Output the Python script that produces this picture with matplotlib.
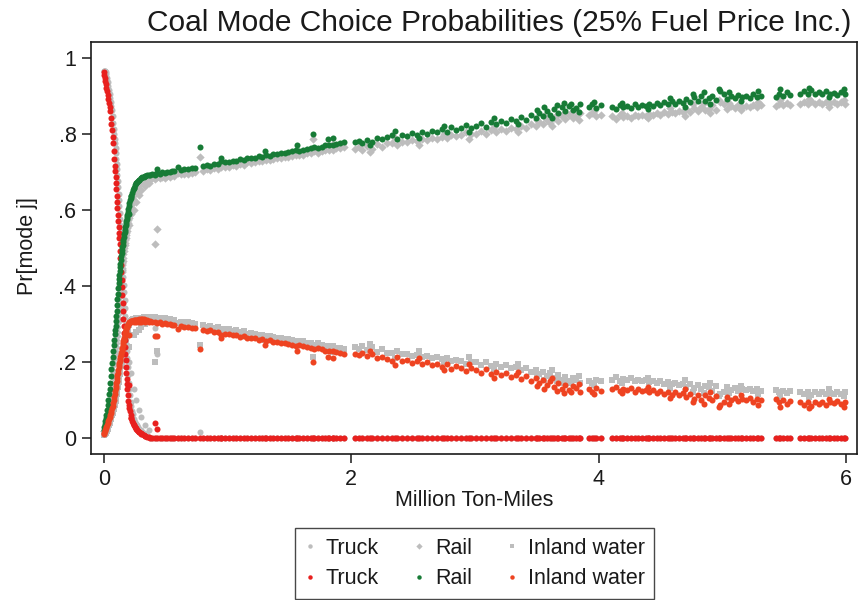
import matplotlib
matplotlib.use("Agg")
import matplotlib.pyplot as plt
from matplotlib import font_manager
from matplotlib.lines import Line2D

# ---------------- data ----------------
# Steep region near zero ton-miles
miles_steep = [0.000, 0.004, 0.008, 0.012, 0.016, 0.020, 0.025, 0.030, 0.035, 0.040,
               0.045, 0.050, 0.055, 0.060, 0.065, 0.070, 0.075, 0.080, 0.084, 0.088,
               0.091, 0.094, 0.097, 0.100, 0.103, 0.106, 0.109, 0.112, 0.115, 0.118,
               0.121, 0.124, 0.127, 0.130, 0.133, 0.136, 0.139, 0.142, 0.145, 0.148,
               0.151, 0.154, 0.157, 0.160, 0.163, 0.166, 0.169, 0.172, 0.175, 0.178,
               0.181, 0.184, 0.187, 0.190, 0.194, 0.198, 0.202, 0.206, 0.210, 0.215,
               0.220, 0.226, 0.232, 0.240, 0.248, 0.256, 0.265, 0.275, 0.285, 0.296,
               0.308, 0.320, 0.334, 0.348]
truck_fuel_steep = [0.964, 0.956, 0.948, 0.939, 0.931, 0.922, 0.912, 0.902, 0.892, 0.882,
                    0.871, 0.860, 0.843, 0.826, 0.810, 0.793, 0.776, 0.754, 0.735, 0.717,
                    0.703, 0.688, 0.671, 0.655, 0.638, 0.621, 0.604, 0.587, 0.570, 0.555,
                    0.540, 0.525, 0.510, 0.492, 0.474, 0.455, 0.436, 0.416, 0.397, 0.376,
                    0.355, 0.334, 0.313, 0.294, 0.276, 0.258, 0.240, 0.222, 0.205, 0.188,
                    0.171, 0.155, 0.142, 0.129, 0.113, 0.098, 0.088, 0.079, 0.070, 0.061,
                    0.053, 0.045, 0.040, 0.035, 0.030, 0.026, 0.022, 0.018, 0.015, 0.012,
                    0.010, 0.007, 0.005, 0.004]
rail_fuel_steep = [0.022, 0.030, 0.037, 0.045, 0.052, 0.060, 0.073, 0.087, 0.100, 0.115,
                   0.130, 0.145, 0.163, 0.181, 0.198, 0.214, 0.230, 0.246, 0.259, 0.273,
                   0.284, 0.296, 0.308, 0.320, 0.335, 0.350, 0.365, 0.380, 0.395, 0.407,
                   0.418, 0.429, 0.440, 0.450, 0.459, 0.468, 0.478, 0.487, 0.495, 0.502,
                   0.509, 0.515, 0.522, 0.529, 0.536, 0.541, 0.548, 0.554, 0.560, 0.566,
                   0.571, 0.577, 0.582, 0.588, 0.595, 0.602, 0.610, 0.618, 0.626, 0.632,
                   0.638, 0.645, 0.652, 0.659, 0.666, 0.670, 0.674, 0.677, 0.680, 0.683,
                   0.686, 0.688, 0.690, 0.692]
water_fuel_steep = [0.010, 0.014, 0.018, 0.022, 0.026, 0.030, 0.035, 0.040, 0.045, 0.051,
                    0.056, 0.061, 0.066, 0.072, 0.078, 0.085, 0.093, 0.100, 0.109, 0.117,
                    0.124, 0.131, 0.137, 0.144, 0.151, 0.158, 0.165, 0.172, 0.179, 0.186,
                    0.192, 0.197, 0.202, 0.207, 0.212, 0.218, 0.223, 0.228, 0.233, 0.238,
                    0.244, 0.249, 0.254, 0.260, 0.264, 0.269, 0.273, 0.278, 0.282, 0.286,
                    0.290, 0.293, 0.295, 0.296, 0.298, 0.300, 0.302, 0.304, 0.305, 0.306,
                    0.307, 0.308, 0.309, 0.310, 0.310, 0.311, 0.311, 0.311, 0.312, 0.312,
                    0.312, 0.312, 0.311, 0.311]
truck_base_steep = [0.966, 0.966, 0.965, 0.965, 0.964, 0.958, 0.946, 0.936, 0.926, 0.915,
                    0.904, 0.894, 0.884, 0.873, 0.862, 0.847, 0.829, 0.813, 0.800, 0.786,
                    0.776, 0.763, 0.750, 0.735, 0.722, 0.708, 0.693, 0.677, 0.660, 0.643,
                    0.627, 0.610, 0.593, 0.576, 0.560, 0.545, 0.530, 0.515, 0.498, 0.480,
                    0.461, 0.442, 0.423, 0.403, 0.383, 0.362, 0.341, 0.320, 0.300, 0.282,
                    0.264, 0.246, 0.228, 0.211, 0.188, 0.166, 0.146, 0.129, 0.113, 0.096,
                    0.084, 0.072, 0.063, 0.050, 0.043, 0.038, 0.033, 0.028, 0.024, 0.020,
                    0.016, 0.013, 0.010, 0.008]
rail_base_steep = [0.018, 0.019, 0.020, 0.021, 0.022, 0.030, 0.039, 0.049, 0.058, 0.070,
                   0.084, 0.097, 0.112, 0.127, 0.142, 0.160, 0.177, 0.195, 0.208, 0.220,
                   0.230, 0.240, 0.249, 0.259, 0.269, 0.280, 0.292, 0.304, 0.316, 0.330,
                   0.345, 0.360, 0.375, 0.390, 0.403, 0.414, 0.425, 0.436, 0.447, 0.456,
                   0.465, 0.475, 0.484, 0.492, 0.500, 0.507, 0.513, 0.520, 0.527, 0.533,
                   0.540, 0.545, 0.552, 0.558, 0.566, 0.573, 0.580, 0.588, 0.595, 0.604,
                   0.614, 0.621, 0.630, 0.640, 0.648, 0.655, 0.661, 0.666, 0.669, 0.672,
                   0.675, 0.677, 0.679, 0.681]
water_base_steep = [0.008, 0.009, 0.010, 0.011, 0.012, 0.014, 0.019, 0.024, 0.029, 0.034,
                    0.039, 0.044, 0.049, 0.055, 0.060, 0.065, 0.071, 0.077, 0.081, 0.087,
                    0.092, 0.098, 0.104, 0.109, 0.115, 0.121, 0.127, 0.134, 0.141, 0.148,
                    0.155, 0.162, 0.169, 0.176, 0.183, 0.190, 0.196, 0.201, 0.206, 0.211,
                    0.216, 0.222, 0.227, 0.232, 0.237, 0.242, 0.247, 0.253, 0.258, 0.263,
                    0.268, 0.273, 0.277, 0.282, 0.287, 0.292, 0.297, 0.301, 0.304, 0.306,
                    0.308, 0.310, 0.312, 0.313, 0.314, 0.315, 0.316, 0.316, 0.317, 0.317,
                    0.317, 0.318, 0.317, 0.317]

# Scattered / outlying observations
miles_extra = [0.41, 0.43, 0.78, 1.69, 1.56, 1.81, 0.22, 0.24, 0.26, 0.28, 0.30, 0.33, 0.36, 0.20,
               0.95, 1.30, 1.85, 2.15, 2.35, 2.55, 2.75, 2.95, 3.15, 3.35, 3.50, 3.56, 3.62, 3.66,
               3.72, 3.78, 3.84, 3.96, 4.02, 4.19, 4.40, 4.58, 4.70, 4.76, 4.85, 4.90, 4.97, 5.05,
               5.15, 5.29, 5.47, 5.70, 5.86, 5.98]
truck_fuel_extra = [0.040, 0.024, 0.000, 0.000, 0.000, 0.000, 0.053, 0.035, 0.024, 0.016, 0.011, 0.006, 0.003, 0.140,
                    0, 0, 0, 0, 0, 0, 0, 0, 0, 0, 0, 0, 0, 0,
                    0, 0, 0, 0, 0, 0, 0, 0, 0, 0, 0, 0, 0, 0,
                    0, 0, 0, 0, 0, 0]
rail_fuel_extra = [0.692, 0.708, 0.765, 0.800, 0.770, 0.786, 0.638, 0.659, 0.672, 0.678, 0.684, 0.689, 0.692, 0.590,
                   0.738, 0.755, 0.790, 0.770, 0.808, 0.790, 0.822, 0.805, 0.842, 0.825, 0.862, 0.870, 0.842, 0.876,
                   0.882, 0.880, 0.858, 0.885, 0.876, 0.882, 0.866, 0.895, 0.872, 0.905, 0.910, 0.880, 0.918, 0.910,
                   0.886, 0.912, 0.918, 0.922, 0.896, 0.918]
water_fuel_extra = [0.268, 0.268, 0.235, 0.200, 0.230, 0.214, 0.307, 0.306, 0.304, 0.306, 0.305, 0.305, 0.305, 0.270,
                    0.262, 0.245, 0.210, 0.230, 0.192, 0.210, 0.178, 0.195, 0.158, 0.175, 0.138, 0.130, 0.158, 0.124,
                    0.118, 0.120, 0.142, 0.115, 0.124, 0.118, 0.134, 0.105, 0.128, 0.095, 0.090, 0.120, 0.082, 0.090,
                    0.114, 0.088, 0.082, 0.078, 0.104, 0.082]
truck_base_extra = [0.290, 0.220, 0.016, 0.000, 0.000, 0.000, 0.170, 0.130, 0.100, 0.075, 0.055, 0.035, 0.020, 0.200,
                    0, 0, 0, 0, 0, 0, 0, 0, 0, 0, 0, 0, 0, 0,
                    0, 0, 0, 0, 0, 0, 0, 0, 0, 0, 0, 0, 0, 0,
                    0, 0, 0, 0, 0, 0]
rail_base_extra = [0.510, 0.550, 0.740, 0.787, 0.752, 0.770, 0.590, 0.600, 0.620, 0.640, 0.652, 0.664, 0.672, 0.560,
                   0.724, 0.741, 0.774, 0.752, 0.789, 0.772, 0.800, 0.786, 0.818, 0.806, 0.838, 0.846, 0.822, 0.850,
                   0.856, 0.855, 0.836, 0.860, 0.850, 0.855, 0.842, 0.868, 0.848, 0.878, 0.882, 0.856, 0.890, 0.882,
                   0.862, 0.885, 0.890, 0.893, 0.872, 0.889]
water_base_extra = [0.200, 0.230, 0.244, 0.213, 0.248, 0.230, 0.270, 0.270, 0.280, 0.285, 0.293, 0.300, 0.308, 0.240,
                    0.276, 0.259, 0.226, 0.248, 0.211, 0.228, 0.200, 0.214, 0.182, 0.194, 0.162, 0.154, 0.178, 0.150,
                    0.144, 0.145, 0.164, 0.140, 0.150, 0.145, 0.158, 0.132, 0.152, 0.122, 0.118, 0.144, 0.110, 0.118,
                    0.138, 0.115, 0.110, 0.107, 0.128, 0.111]

# Long-haul region
miles_tail = [0.37, 0.39, 0.41, 0.43, 0.45, 0.47, 0.49, 0.51, 0.53, 0.55, 0.57, 0.60, 0.62, 0.65, 0.68, 0.71, 0.74,
              0.80, 0.83, 0.86, 0.89, 0.92, 0.95, 0.98, 1.01, 1.04, 1.07, 1.10, 1.13, 1.16, 1.19, 1.22, 1.25, 1.28,
              1.31, 1.34, 1.37, 1.40, 1.43, 1.46, 1.49, 1.52, 1.55, 1.58, 1.61, 1.64, 1.67, 1.70, 1.73, 1.76, 1.79,
              1.82, 1.85, 1.88, 1.91, 1.94,
              2.03, 2.06, 2.09, 2.13, 2.17, 2.21, 2.25, 2.29, 2.33, 2.37, 2.41, 2.45, 2.49, 2.53, 2.57, 2.61, 2.65,
              2.69, 2.73, 2.77, 2.81, 2.85, 2.89, 2.93, 2.97,
              3.01, 3.05, 3.09, 3.13, 3.17, 3.21, 3.25, 3.29, 3.33, 3.37, 3.41, 3.45, 3.49, 3.52, 3.55, 3.58, 3.61,
              3.64, 3.67, 3.70, 3.73, 3.76, 3.79, 3.82, 3.85, 3.92, 3.95, 3.98,
              4.11, 4.14, 4.17, 4.20, 4.23, 4.26, 4.29, 4.32, 4.35, 4.38, 4.41, 4.44, 4.47, 4.50, 4.53, 4.56, 4.59,
              4.62, 4.65, 4.68, 4.71, 4.74, 4.77, 4.80, 4.83, 4.86, 4.89, 4.92, 4.95, 4.98, 5.01, 5.04, 5.07, 5.10,
              5.13, 5.16, 5.19, 5.22, 5.25, 5.28, 5.31, 5.43, 5.46, 5.49, 5.52, 5.55, 5.63, 5.66, 5.69, 5.72, 5.75,
              5.78, 5.81, 5.84, 5.87, 5.90, 5.93, 5.96, 5.99]
rail_fuel_tail = [0.693, 0.695, 0.694, 0.697, 0.696, 0.699, 0.698, 0.701, 0.700, 0.703, 0.702, 0.712, 0.705, 0.708, 0.707, 0.711, 0.710,
                  0.716, 0.718, 0.717, 0.722, 0.721, 0.728, 0.725, 0.727, 0.729, 0.728, 0.733, 0.732, 0.736, 0.737, 0.738, 0.741, 0.740,
                  0.744, 0.743, 0.748, 0.747, 0.750, 0.751, 0.753, 0.754, 0.757, 0.756, 0.759, 0.760, 0.762, 0.765, 0.763, 0.767, 0.770,
                  0.770, 0.772, 0.774, 0.776, 0.778,
                  0.779, 0.782, 0.776, 0.785, 0.780, 0.790, 0.786, 0.792, 0.796, 0.788, 0.798, 0.794, 0.802, 0.797, 0.806, 0.800, 0.809,
                  0.804, 0.812, 0.806, 0.818, 0.810, 0.815, 0.824, 0.816,
                  0.822, 0.828, 0.819, 0.832, 0.826, 0.835, 0.830, 0.840, 0.834, 0.845, 0.838, 0.850, 0.843, 0.855, 0.847, 0.860, 0.850,
                  0.866, 0.855, 0.870, 0.860, 0.874, 0.862, 0.868, 0.878, 0.872, 0.880, 0.868,
                  0.872, 0.866, 0.876, 0.870, 0.874, 0.868, 0.878, 0.871, 0.877, 0.873, 0.880, 0.874, 0.882, 0.876, 0.884, 0.878, 0.886,
                  0.880, 0.888, 0.882, 0.893, 0.884, 0.896, 0.886, 0.899, 0.888, 0.894, 0.901, 0.889, 0.912, 0.905, 0.892, 0.899, 0.894,
                  0.903, 0.896, 0.900, 0.895, 0.904, 0.897, 0.901, 0.898, 0.906, 0.900, 0.910, 0.902, 0.905, 0.912, 0.904, 0.916, 0.906,
                  0.910, 0.904, 0.912, 0.906, 0.909, 0.903, 0.911, 0.906]
water_fuel_tail = [0.307, 0.305, 0.306, 0.303, 0.304, 0.301, 0.302, 0.299, 0.300, 0.297, 0.298, 0.288, 0.295, 0.292, 0.293, 0.289, 0.290,
                   0.284, 0.282, 0.283, 0.278, 0.279, 0.272, 0.275, 0.273, 0.271, 0.272, 0.267, 0.268, 0.264, 0.263, 0.262, 0.259, 0.260,
                   0.256, 0.257, 0.252, 0.253, 0.250, 0.249, 0.247, 0.246, 0.243, 0.244, 0.241, 0.240, 0.238, 0.235, 0.237, 0.233, 0.230,
                   0.230, 0.228, 0.226, 0.224, 0.222,
                   0.221, 0.218, 0.224, 0.215, 0.220, 0.210, 0.214, 0.208, 0.204, 0.212, 0.202, 0.206, 0.198, 0.203, 0.194, 0.200, 0.191,
                   0.196, 0.188, 0.194, 0.182, 0.190, 0.185, 0.176, 0.184,
                   0.178, 0.172, 0.181, 0.168, 0.174, 0.165, 0.170, 0.160, 0.166, 0.155, 0.162, 0.150, 0.157, 0.145, 0.153, 0.140, 0.150,
                   0.134, 0.145, 0.130, 0.140, 0.126, 0.138, 0.132, 0.122, 0.128, 0.120, 0.132,
                   0.128, 0.134, 0.124, 0.130, 0.126, 0.132, 0.122, 0.129, 0.123, 0.127, 0.120, 0.126, 0.118, 0.124, 0.116, 0.122, 0.114,
                   0.120, 0.112, 0.118, 0.107, 0.116, 0.104, 0.114, 0.101, 0.112, 0.106, 0.099, 0.111, 0.088, 0.095, 0.108, 0.101, 0.106,
                   0.097, 0.104, 0.100, 0.105, 0.096, 0.103, 0.099, 0.102, 0.094, 0.100, 0.090, 0.098, 0.095, 0.088, 0.096, 0.084, 0.094,
                   0.090, 0.096, 0.088, 0.094, 0.091, 0.097, 0.089, 0.094]
rail_base_tail = [0.681, 0.684, 0.681, 0.686, 0.683, 0.688, 0.685, 0.690, 0.687, 0.692, 0.689, 0.697, 0.694, 0.695, 0.696, 0.698, 0.699,
                  0.703, 0.707, 0.704, 0.711, 0.708, 0.713, 0.714, 0.714, 0.718, 0.715, 0.722, 0.719, 0.725, 0.724, 0.727, 0.728, 0.729,
                  0.731, 0.732, 0.735, 0.736, 0.737, 0.740, 0.740, 0.743, 0.744, 0.745, 0.746, 0.749, 0.749, 0.754, 0.750, 0.756, 0.757,
                  0.759, 0.759, 0.763, 0.763, 0.767,
                  0.761, 0.766, 0.757, 0.769, 0.761, 0.774, 0.767, 0.776, 0.777, 0.772, 0.779, 0.778, 0.783, 0.781, 0.787, 0.784, 0.790,
                  0.788, 0.793, 0.790, 0.798, 0.794, 0.796, 0.804, 0.800,
                  0.800, 0.807, 0.799, 0.810, 0.805, 0.812, 0.809, 0.817, 0.813, 0.822, 0.817, 0.827, 0.822, 0.832, 0.826, 0.836, 0.829,
                  0.842, 0.834, 0.846, 0.839, 0.850, 0.841, 0.846, 0.854, 0.849, 0.856, 0.847,
                  0.846, 0.840, 0.849, 0.845, 0.847, 0.843, 0.851, 0.846, 0.850, 0.848, 0.853, 0.849, 0.855, 0.851, 0.857, 0.853, 0.859,
                  0.855, 0.861, 0.857, 0.866, 0.859, 0.869, 0.861, 0.872, 0.863, 0.867, 0.875, 0.864, 0.884, 0.878, 0.867, 0.873, 0.869,
                  0.876, 0.871, 0.874, 0.870, 0.877, 0.872, 0.875, 0.873, 0.879, 0.875, 0.882, 0.877, 0.879, 0.885, 0.878, 0.888, 0.880,
                  0.884, 0.879, 0.885, 0.881, 0.883, 0.878, 0.884, 0.880]
water_base_tail = [0.319, 0.316, 0.319, 0.314, 0.317, 0.312, 0.315, 0.310, 0.313, 0.308, 0.311, 0.303, 0.306, 0.305, 0.304, 0.302, 0.301,
                   0.297, 0.293, 0.296, 0.289, 0.292, 0.287, 0.286, 0.286, 0.282, 0.285, 0.278, 0.281, 0.275, 0.276, 0.273, 0.272, 0.271,
                   0.269, 0.268, 0.265, 0.264, 0.263, 0.260, 0.260, 0.257, 0.256, 0.255, 0.254, 0.251, 0.251, 0.246, 0.250, 0.244, 0.243,
                   0.241, 0.241, 0.237, 0.237, 0.233,
                   0.239, 0.234, 0.243, 0.231, 0.239, 0.226, 0.233, 0.224, 0.223, 0.228, 0.221, 0.222, 0.217, 0.219, 0.213, 0.216, 0.210,
                   0.212, 0.207, 0.210, 0.202, 0.206, 0.204, 0.196, 0.200,
                   0.200, 0.193, 0.201, 0.190, 0.195, 0.188, 0.191, 0.183, 0.187, 0.178, 0.183, 0.173, 0.178, 0.168, 0.174, 0.164, 0.171,
                   0.158, 0.166, 0.154, 0.161, 0.150, 0.159, 0.154, 0.146, 0.151, 0.144, 0.153,
                   0.154, 0.160, 0.151, 0.155, 0.153, 0.157, 0.149, 0.154, 0.150, 0.152, 0.147, 0.151, 0.145, 0.149, 0.143, 0.147, 0.141,
                   0.145, 0.139, 0.143, 0.134, 0.141, 0.131, 0.139, 0.128, 0.137, 0.133, 0.125, 0.136, 0.116, 0.122, 0.133, 0.127, 0.131,
                   0.124, 0.129, 0.126, 0.130, 0.123, 0.128, 0.125, 0.127, 0.121, 0.125, 0.118, 0.123, 0.121, 0.115, 0.122, 0.112, 0.120,
                   0.116, 0.121, 0.115, 0.119, 0.117, 0.122, 0.116, 0.120]
truck_fuel_tail = [0, 0, 0, 0, 0, 0, 0, 0, 0, 0, 0, 0, 0, 0, 0, 0, 0,
                   0, 0, 0, 0, 0, 0, 0, 0, 0, 0, 0, 0, 0, 0, 0, 0, 0, 0, 0, 0, 0, 0, 0, 0, 0, 0, 0, 0, 0, 0, 0, 0, 0, 0, 0, 0, 0, 0, 0,
                   0, 0, 0, 0, 0, 0, 0, 0, 0, 0, 0, 0, 0, 0, 0, 0, 0, 0, 0, 0, 0, 0, 0, 0, 0,
                   0, 0, 0, 0, 0, 0, 0, 0, 0, 0, 0, 0, 0, 0, 0, 0, 0, 0, 0, 0, 0, 0, 0, 0, 0, 0, 0, 0,
                   0, 0, 0, 0, 0, 0, 0, 0, 0, 0, 0, 0, 0, 0, 0, 0, 0, 0, 0, 0, 0, 0, 0, 0, 0, 0, 0, 0, 0, 0,
                   0, 0, 0, 0, 0, 0, 0, 0, 0, 0, 0, 0, 0, 0, 0, 0, 0, 0, 0, 0, 0, 0, 0, 0, 0, 0, 0, 0, 0]
truck_base_tail = [0, 0, 0, 0, 0, 0, 0, 0, 0, 0, 0, 0, 0, 0, 0, 0, 0,
                   0, 0, 0, 0, 0, 0, 0, 0, 0, 0, 0, 0, 0, 0, 0, 0, 0, 0, 0, 0, 0, 0, 0, 0, 0, 0, 0, 0, 0, 0, 0, 0, 0, 0, 0, 0, 0, 0, 0,
                   0, 0, 0, 0, 0, 0, 0, 0, 0, 0, 0, 0, 0, 0, 0, 0, 0, 0, 0, 0, 0, 0, 0, 0, 0,
                   0, 0, 0, 0, 0, 0, 0, 0, 0, 0, 0, 0, 0, 0, 0, 0, 0, 0, 0, 0, 0, 0, 0, 0, 0, 0, 0, 0,
                   0, 0, 0, 0, 0, 0, 0, 0, 0, 0, 0, 0, 0, 0, 0, 0, 0, 0, 0, 0, 0, 0, 0, 0, 0, 0, 0, 0, 0, 0,
                   0, 0, 0, 0, 0, 0, 0, 0, 0, 0, 0, 0, 0, 0, 0, 0, 0, 0, 0, 0, 0, 0, 0, 0, 0, 0, 0, 0, 0]

x_ticks = [0, 2, 4, 6]
x_tick_labels = ["0", "2", "4", "6"]
y_ticks = [0, 0.2, 0.4, 0.6, 0.8, 1.0]
y_tick_labels = ["0", ".2", ".4", ".6", ".8", "1"]
series_labels = ["Truck", "Rail", "Inland water"]
title_text = "Coal Mode Choice Probabilities (25% Fuel Price Inc.)"

# ---------------- assemble ----------------
miles = miles_steep + miles_extra + miles_tail
truck_base = truck_base_steep + truck_base_extra + truck_base_tail
rail_base = rail_base_steep + rail_base_extra + rail_base_tail
water_base = water_base_steep + water_base_extra + water_base_tail
truck_fuel = truck_fuel_steep + truck_fuel_extra + truck_fuel_tail
rail_fuel = rail_fuel_steep + rail_fuel_extra + rail_fuel_tail
water_fuel = water_fuel_steep + water_fuel_extra + water_fuel_tail

# ---------------- style ----------------
names = {f.name for f in font_manager.fontManager.ttflist}
base_font = "Liberation Sans" if "Liberation Sans" in names else "DejaVu Sans"
plt.rcParams["font.family"] = [base_font, "DejaVu Sans"]

GREY = "#bdbdbd"
RED = "#e8201e"
GREEN = "#177b36"
ORANGE = "#ee4321"
INK = "#1a1a1a"

W, H = 859, 600
fig = plt.figure(figsize=(W / 100, H / 100), dpi=100)
ax = fig.add_axes([91 / W, 1 - 454 / H, (857 - 91) / W, (454 - 42) / H])

ms = 19
ax.scatter(miles, truck_base, s=ms, marker="o", color=GREY, linewidths=0, zorder=2)
ax.scatter(miles, rail_base, s=ms * 0.95, marker="D", color=GREY, linewidths=0, zorder=2)
ax.scatter(miles, water_base, s=ms * 0.85, marker="s", color=GREY, linewidths=0, zorder=2)
ax.scatter(miles, truck_fuel, s=ms, marker="o", color=RED, linewidths=0, zorder=3)
ax.scatter(miles, rail_fuel, s=ms, marker="o", color=GREEN, linewidths=0, zorder=3)
ax.scatter(miles, water_fuel, s=ms, marker="o", color=ORANGE, linewidths=0, zorder=3)

ax.set_xlim(-0.105, 6.089)
ax.set_ylim(-0.042, 1.042)
ax.set_xticks(x_ticks)
ax.set_xticklabels(x_tick_labels)
ax.set_yticks(y_ticks)
ax.set_yticklabels(y_tick_labels)
ax.tick_params(axis="both", direction="out", length=6.5, width=1.1, color=INK,
               labelsize=15.5, labelcolor=INK, pad=4)
for sp in ax.spines.values():
    sp.set_linewidth(1.2)
    sp.set_color(INK)

fig.text(28 / W, 1 - 246 / H, "Pr[mode j]", rotation=90, ha="center", va="center",
         fontsize=15.5, color=INK)
fig.text(474 / W, 1 - 500 / H, "Million Ton-Miles", ha="center", va="center",
         fontsize=15.5, color=INK)
fig.text(499 / W, 1 - 23 / H, title_text, ha="center", va="center",
         fontsize=21.5, color=INK)

def handle(c, m):
    return Line2D([], [], linestyle="none", marker=m, markersize=3.2,
                  markerfacecolor=c, markeredgewidth=0)

handles = [handle(GREY, "o"), handle(RED, "o"),
           handle(GREY, "D"), handle(GREEN, "o"),
           handle(GREY, "s"), handle(ORANGE, "o")]
labels = [series_labels[0], series_labels[0],
          series_labels[1], series_labels[1],
          series_labels[2], series_labels[2]]
leg = fig.legend(handles, labels, ncol=3, loc="lower center",
                 bbox_to_anchor=(474.5 / W, 1 / H), frameon=True, fancybox=False,
                 shadow=False, fontsize=15.5, handlelength=0.5, handletextpad=0.5,
                 columnspacing=1.6, labelspacing=0.45, borderpad=0.45,
                 borderaxespad=0)
leg.get_frame().set_edgecolor(INK)
leg.get_frame().set_linewidth(1.0)
for t in leg.get_texts():
    t.set_color(INK)

fig.savefig("out.png", dpi=100)
